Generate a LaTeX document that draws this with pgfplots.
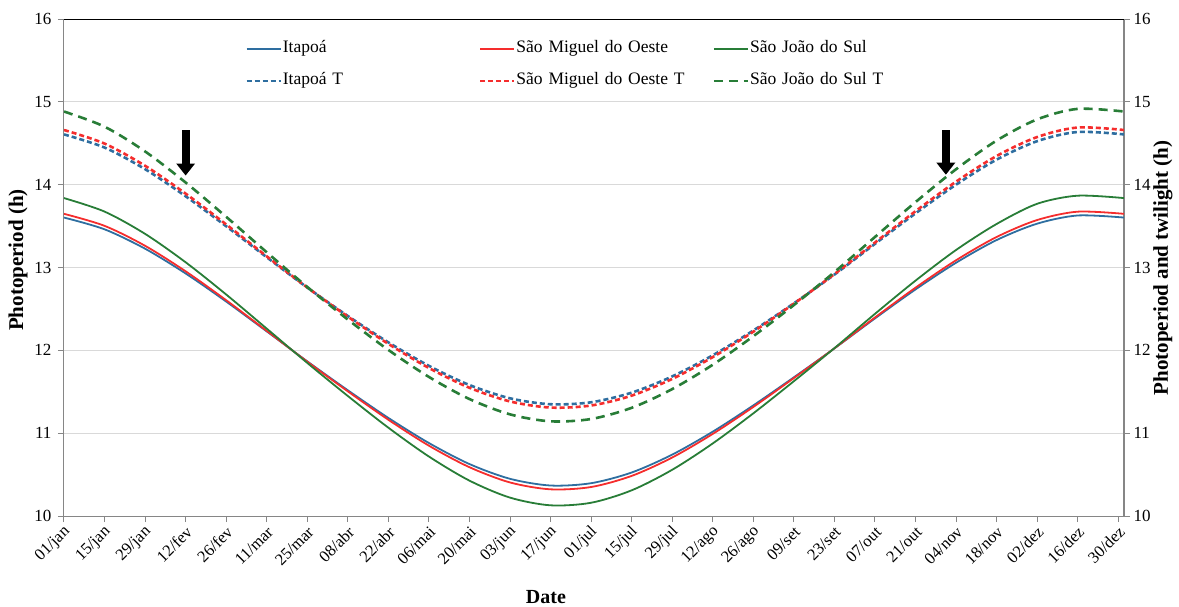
\documentclass[border=0pt]{standalone}
\usepackage{fontspec}
\setmainfont{Liberation Serif}
\usepackage{pgfplots}
\usepackage{pgfplotstable}
\pgfplotsset{compat=1.18}
\usetikzlibrary{arrows.meta}
\definecolor{cI}{RGB}{46,110,160}
\definecolor{cM}{RGB}{245,45,45}
\definecolor{cS}{RGB}{40,125,55}
\definecolor{axgray}{RGB}{134,134,134}
\definecolor{gridgray}{RGB}{217,217,217}

\pgfplotstableread{
day I M S IT MT ST
0 13.603 13.648 13.838 14.607 14.660 14.883
14 13.461 13.503 13.675 14.448 14.496 14.700
28 13.227 13.262 13.406 14.187 14.228 14.401
42 12.928 12.954 13.063 13.860 13.892 14.026
56 12.589 12.605 12.674 13.498 13.520 13.612
70 12.229 12.235 12.262 13.124 13.135 13.184
84 11.867 11.863 11.848 12.758 12.759 12.765
98 11.518 11.505 11.449 12.415 12.407 12.372
112 11.184 11.162 11.066 12.096 12.078 12.005
126 10.881 10.849 10.718 11.813 11.787 11.679
140 10.627 10.589 10.427 11.581 11.548 11.412
154 10.449 10.405 10.222 11.421 11.383 11.227
168 10.368 10.322 10.129 11.349 11.309 11.143
182 10.396 10.350 10.160 11.373 11.334 11.171
196 10.525 10.484 10.310 11.489 11.453 11.306
210 10.741 10.706 10.558 11.685 11.655 11.532
224 11.018 10.991 10.876 11.940 11.918 11.826
238 11.335 11.316 11.239 12.239 12.225 12.170
252 11.674 11.665 11.627 12.567 12.563 12.546
266 12.023 12.024 12.026 12.914 12.920 12.944
280 12.385 12.396 12.440 13.285 13.301 13.368
294 12.735 12.756 12.841 13.653 13.679 13.789
308 13.057 13.087 13.211 14.000 14.036 14.186
322 13.331 13.368 13.525 14.302 14.346 14.532
336 13.529 13.573 13.769 14.525 14.575 14.788
350 13.628 13.674 13.867 14.636 14.690 14.915
366 13.603 13.648 13.838 14.607 14.660 14.883
}\photo

\pgfplotsset{
  common/.style={
    at={(0pt,0pt)}, anchor=south west,
    scale only axis, width=1060pt, height=497pt,
    xmin=0, xmax=366, ymin=10, ymax=16,
    ytick={10,11,12,13,14,15,16},
    /pgf/number format/assume math mode=true,
    tick align=outside, major tick length=6pt,
    tick style={axgray, line width=1pt},
    axis line style={axgray, line width=1pt},
    yticklabel style={font=\fontsize{17}{19}\selectfont},
    ylabel style={font=\bfseries\fontsize{21}{25}\selectfont, anchor=center},
  },
  solidline/.style={line width=1.8pt, smooth},
  dashA/.style={line width=2.6pt, smooth, dash pattern=on 5pt off 3pt},
  dashB/.style={line width=2.6pt, smooth, dash pattern=on 9pt off 6pt},
}

\begin{document}
\begin{tikzpicture}
\path[use as bounding box] (-64pt,-90pt) rectangle (1115pt,516pt);
\begin{axis}[common,
  xtick={0,14,...,364},
  xticklabels={01/jan,15/jan,29/jan,12/fev,26/fev,11/mar,25/mar,08/abr,22/abr,06/mai,20/mai,03/jun,17/jun,01/jul,15/jul,29/jul,12/ago,26/ago,09/set,23/set,07/out,21/out,04/nov,18/nov,02/dez,16/dez,30/dez},
  xticklabel style={xshift=6pt, yshift=-5pt, rotate=45, anchor=east, font=\fontsize{16.5}{18}\selectfont},
  yticklabel style={xshift=-3pt},
  xtick pos=bottom, ytick pos=left,
  ymajorgrids, grid style={gridgray, line width=1pt},
  ylabel={Photoperiod (h)},
  ylabel style={at={(rel axis cs:-0.0434,0.515)}},
  xlabel={Date},
  xlabel style={font=\bfseries\fontsize{20}{24}\selectfont, at={(rel axis cs:0.4547,-0.163)}, anchor=center},
  legend columns=3,
  legend image code/.code={\draw[#1] (0pt,0pt) -- (34pt,0pt);},
  legend style={at={(rel axis cs:0.1708,0.9584)}, anchor=north west,
    draw=none, fill=none, inner sep=0pt, row sep=14pt, column sep=0pt,
    font=\fontsize{17.5}{20}\selectfont,
    nodes={inner sep=1pt, text height=12pt, text depth=4pt, anchor=west},
    /tikz/every even column/.append style={text width=195pt}},
]
\draw[black, line width=1pt] (rel axis cs:0,1) -- (rel axis cs:1,1);
\addplot[cI, solidline] table[x=day, y=I] {\photo};
\addlegendentry{Itapoá}
\addplot[cM, solidline] table[x=day, y=M] {\photo};
\addlegendentry{São Miguel do Oeste}
\addplot[cS, solidline] table[x=day, y=S] {\photo};
\addlegendentry{São João do Sul}
\addplot[cI, dashA] table[x=day, y=IT] {\photo};
\addlegendentry{Itapoá T}
\addplot[cM, dashA] table[x=day, y=MT] {\photo};
\addlegendentry{São Miguel do Oeste T}
\addplot[cS, dashB] table[x=day, y=ST] {\photo};
\addlegendentry{São João do Sul T}
\draw[black, line width=8pt, -{Triangle[width=18pt,length=12pt]}] (axis cs:42,14.66) -- (axis cs:42,14.11);
\draw[black, line width=8pt, -{Triangle[width=18pt,length=12pt]}] (axis cs:304.5,14.66) -- (axis cs:304.5,14.12);
\end{axis}
\begin{axis}[common,
  axis x line=none, axis y line*=right,
  ylabel={Photoperiod and twilight (h)},
  ylabel style={at={(rel axis cs:1.0368,0.499)}},
]
\end{axis}
\end{tikzpicture}
\end{document}
